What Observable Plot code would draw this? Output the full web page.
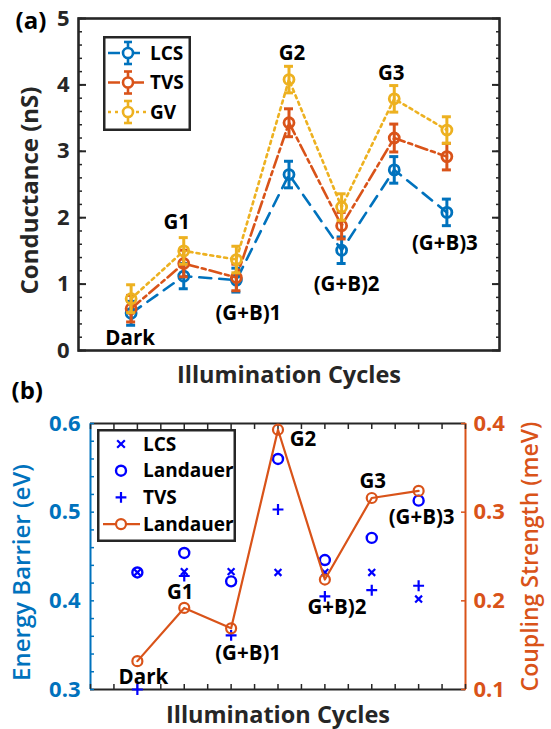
<!DOCTYPE html>
<html><head><meta charset="utf-8">
<script src="https://cdn.jsdelivr.net/npm/d3@7"></script>
<script src="https://cdn.jsdelivr.net/npm/@observablehq/plot@0.6"></script>
<style>
body{margin:0;background:#fff;}
#wrap{position:relative;width:551px;height:729px;overflow:hidden;font-family:"Open Sans",sans-serif;}
#wrap svg.leg{position:absolute;overflow:visible;}
</style></head><body><div id="wrap"></div>
<script>
// ---------- data ----------
const categories = ["Dark","G1","(G+B)1","G2","(G+B)2","G3","(G+B)3"];
const categoriesB = ["Dark","G1","(G+B)1","G2","G+B)2","G3","(G+B)3"];
// Panel (a): conductance (nS)
const lcsG   = [0.56, 1.12, 1.06, 2.65, 1.51, 2.72, 2.08];
const lcsErr = [0.18, 0.19, 0.18, 0.20, 0.20, 0.20, 0.20];
const tvsG   = [0.63, 1.31, 1.10, 3.43, 1.88, 3.20, 2.92];
const tvsErr = [0.20, 0.20, 0.20, 0.21, 0.20, 0.21, 0.20];
const gvG    = [0.78, 1.50, 1.37, 4.08, 2.16, 3.79, 3.32];
const gvErr  = [0.21, 0.20, 0.20, 0.20, 0.20, 0.20, 0.20];
// Panel (b): energy barrier (eV) and coupling strength (meV)
const barrierLCS      = [0.432, 0.433, 0.433, 0.432, 0.432, 0.432, 0.402];
const barrierLandauer = [0.432, 0.454, 0.422, 0.560, 0.446, 0.471, 0.513];
const barrierTVS      = [0.300, 0.428, 0.361, 0.503, 0.405, 0.412, 0.417];
const couplingLandauer= [0.132, 0.192, 0.169, 0.393, 0.224, 0.316, 0.324];
// tick labels
const ticksA = [0, 1, 2, 3, 4, 5];
const ticksBLeft = [0.3, 0.4, 0.5, 0.6];
const ticksBRight = [0.1, 0.2, 0.3, 0.4];

// ---------- styles ----------
const BLUE = "#0072BD", ORANGE = "#D95319", YELLOW = "#EDB120", DARK = "#262626", PURE = "#0000FF";
const FONT = "Open Sans";
const seriesA = [
  {name:"LCS", values:lcsG, err:lcsErr, color:BLUE, dash:"12,8"},
  {name:"TVS", values:tvsG, err:tvsErr, color:ORANGE, dash:"12,4,4,4"},
  {name:"GV",  values:gvG,  err:gvErr,  color:YELLOW, dash:"3,4"}
];
const rowsOf = s => s.values.map((v,i)=>({x:i+1, y:v, lo:v-s.err[i], hi:v+s.err[i], cat:categories[i]}));
const wrap = document.getElementById("wrap");

// ---------- panel (a) ----------
const labelA = [
  {s:0, dx:-1, dy:25}, {s:2, dx:-7, dy:-28}, {s:0, dx:12, dy:33}, {s:2, dx:3, dy:-26},
  {s:0, dx:5, dy:34}, {s:2, dx:-3, dy:-25}, {s:0, dx:-2, dy:31}
];
const marksA = [];
for (const s of seriesA) {
  const rows = rowsOf(s);
  marksA.push(
    Plot.line(rows, {x:"x", y:"y", stroke:s.color, strokeWidth:2.6, strokeDasharray:s.dash}),
    Plot.ruleX(rows, {x:"x", y1:"lo", y2:"hi", stroke:s.color, strokeWidth:3}),
    Plot.ruleY(rows, {x1:"x", x2:"x", y:"lo", insetLeft:-4.5, insetRight:-4.5, stroke:s.color, strokeWidth:3}),
    Plot.ruleY(rows, {x1:"x", x2:"x", y:"hi", insetLeft:-4.5, insetRight:-4.5, stroke:s.color, strokeWidth:3}),
    Plot.dot(rows, {x:"x", y:"y", r:5, stroke:s.color, strokeWidth:2.8, fill:"none"})
  );
}
labelA.forEach((l,i)=>{
  const row = rowsOf(seriesA[l.s])[i];
  marksA.push(Plot.text([row], {x:"x", y:"y", text:"cat", dx:l.dx, dy:l.dy, fontSize:20.5, fontWeight:"bold", fill:"black"}));
});
const minorA = d3.range(0, 5.0001, 0.2);
marksA.push(
  Plot.axisY({anchor:"left", ticks:minorA, tickSize:-4, fill:"none", stroke:DARK, strokeWidth:1.5, label:null}),
  Plot.axisY({anchor:"right", ticks:minorA, tickSize:-4, fill:"none", stroke:DARK, strokeWidth:1.5, label:null}),
  Plot.axisY({anchor:"left", ticks:ticksA, tickSize:-8, fill:"none", stroke:DARK, strokeWidth:2, label:null}),
  Plot.axisY({anchor:"right", ticks:ticksA, tickSize:-8, fill:"none", stroke:DARK, strokeWidth:2, label:null}),
  Plot.axisY({anchor:"left", ticks:ticksA, tickSize:0, tickPadding:9, tickFormat:d3.format("d"), fill:DARK, fontSize:22, fontWeight:"bold", label:null}),
  Plot.frame({stroke:DARK, strokeWidth:2.6}),
  Plot.text(["Conductance (nS)"], {frameAnchor:"left", textAnchor:"middle", lineAnchor:"middle", rotate:-90, dx:-48, dy:6, fontSize:24, fontWeight:"bold", fill:DARK}),
  Plot.text(["Illumination Cycles"], {frameAnchor:"bottom", textAnchor:"middle", lineAnchor:"middle", dy:25, fontSize:23.5, fontWeight:"bold", fill:DARK}),
  Plot.text(["(a)"], {frameAnchor:"top-left", textAnchor:"start", lineAnchor:"top", dx:-63, dy:-7, fontSize:24, fontWeight:"bold", fill:"black"})
);
const plotA = Plot.plot({
  width:551, height:384, marginLeft:78, marginRight:52, marginTop:18, marginBottom:34,
  x:{domain:[0,8], axis:null}, y:{domain:[0,5], axis:null},
  style:{fontFamily:FONT, overflow:"visible", background:"transparent"},
  marks:marksA
});
plotA.style.position = "absolute"; plotA.style.left = "0px"; plotA.style.top = "0px";
wrap.appendChild(plotA);

// ---------- panel (b) ----------
const OFF = 0.2; // coupling axis (0.1..0.4) aligned with barrier axis (0.3..0.6)
const bRows = (arr) => arr.map((v,i)=>({x:i+1, y:v}));
const cRows = couplingLandauer.map((v,i)=>({x:i+1, y:v+OFF, cat:categoriesB[i]}));
const labelB = [
  {dx:6, dy:16}, {dx:-4, dy:-15}, {dx:17, dy:25}, {dx:25, dy:10},
  {dx:12, dy:28}, {dx:1, dy:-17}, {dx:3, dy:27}
];
const marksB = [
  Plot.ruleY([0.3, 0.6], {stroke:DARK, strokeWidth:2}),
  Plot.ruleX([0], {stroke:BLUE, strokeWidth:2}),
  Plot.ruleX([8], {stroke:ORANGE, strokeWidth:2}),
  Plot.axisX({anchor:"bottom", ticks:d3.range(0,8.001,0.5), tickSize:-5, fill:"none", stroke:DARK, strokeWidth:1.5, label:null}),
  Plot.axisX({anchor:"top", ticks:d3.range(0,8.001,0.5), tickSize:-5, fill:"none", stroke:DARK, strokeWidth:1.5, label:null}),
  Plot.axisY({anchor:"left", ticks:d3.range(0.3,0.6001,0.02), tickSize:-4, fill:"none", stroke:BLUE, strokeWidth:1.5, label:null}),
  Plot.axisY({anchor:"right", ticks:ticksBRight.map(c=>c+OFF), tickSize:-5, fill:"none", stroke:ORANGE, strokeWidth:1.5, label:null}),
  Plot.axisY({anchor:"left", ticks:ticksBLeft, tickSize:0, tickPadding:10, tickFormat:d3.format(".1f"), fill:BLUE, fontSize:22, fontWeight:"bold", label:null}),
  Plot.axisY({anchor:"right", ticks:ticksBRight.map(c=>c+OFF), tickSize:0, tickPadding:8, tickFormat:d=>(d-OFF).toFixed(1), fill:ORANGE, fontSize:22, fontWeight:"bold", label:null}),
  Plot.dot(bRows(barrierLCS), {x:"x", y:"y", symbol:"times", r:3.2, stroke:PURE, strokeWidth:2.2}),
  Plot.dot(bRows(barrierLandauer), {x:"x", y:"y", r:5, stroke:PURE, strokeWidth:2.4, fill:"none"}),
  Plot.dot(bRows(barrierTVS), {x:"x", y:"y", symbol:"plus", r:3.6, stroke:PURE, strokeWidth:2.2}),
  Plot.line(cRows, {x:"x", y:"y", stroke:ORANGE, strokeWidth:2.2}),
  Plot.dot(cRows, {x:"x", y:"y", r:5, stroke:ORANGE, strokeWidth:2.2, fill:"none"}),
  Plot.text(["Energy Barrier (eV)"], {frameAnchor:"left", textAnchor:"middle", lineAnchor:"middle", rotate:-90, dx:-68, dy:16, fontSize:24, fontWeight:600, fill:BLUE}),
  Plot.text(["Coupling Strength (meV)"], {frameAnchor:"right", textAnchor:"middle", lineAnchor:"middle", rotate:-90, dx:65, dy:0, fontSize:23, fontWeight:600, fill:ORANGE}),
  Plot.text(["Illumination Cycles"], {frameAnchor:"bottom", textAnchor:"middle", lineAnchor:"middle", dy:26, fontSize:23.5, fontWeight:"bold", fill:DARK}),
  Plot.text(["(b)"], {frameAnchor:"top-left", textAnchor:"start", lineAnchor:"top", dx:-79, dy:-42, fontSize:24, fontWeight:"bold", fill:"black"})
];
labelB.forEach((l,i)=>{
  marksB.push(Plot.text([cRows[i]], {x:"x", y:"y", text:"cat", dx:l.dx, dy:l.dy, fontSize:20.5, fontWeight:"bold", fill:"black"}));
});
const plotB = Plot.plot({
  width:551, height:345, marginLeft:90, marginRight:86, marginTop:39, marginBottom:40,
  x:{domain:[0,8], axis:null}, y:{domain:[0.3,0.6], axis:null},
  style:{fontFamily:FONT, overflow:"visible", background:"transparent"},
  marks:marksB
});
plotB.style.position = "absolute"; plotB.style.left = "0px"; plotB.style.top = "384px";
wrap.appendChild(plotB);

// ---------- legends ----------
function legendSvg(left, top, w, h) {
  const svg = d3.select(wrap).append("svg").attr("class","leg")
    .style("left", left+"px").style("top", top+"px").attr("width", w).attr("height", h);
  svg.append("rect").attr("x",1.25).attr("y",1.25).attr("width",w-2.5).attr("height",h-2.5)
    .attr("fill","white").attr("stroke",DARK).attr("stroke-width",2.5);
  return svg;
}
const legA = legendSvg(103, 36, 88, 95);
seriesA.forEach((s,i)=>{
  const y = 17 + i*29.5;
  const g = legA.append("g").attr("stroke", s.color).attr("stroke-width", 2.6).attr("fill","none");
  g.append("line").attr("x1",5).attr("x2",44).attr("y1",y).attr("y2",y).attr("stroke-dasharray", s.dash);
  g.append("line").attr("x1",25).attr("x2",25).attr("y1",y-11).attr("y2",y+11);
  g.append("line").attr("x1",21).attr("x2",29).attr("y1",y-11).attr("y2",y-11);
  g.append("line").attr("x1",21).attr("x2",29).attr("y1",y+11).attr("y2",y+11);
  g.append("circle").attr("cx",25).attr("cy",y).attr("r",5).attr("fill","white");
  legA.append("text").attr("x",47).attr("y",y).attr("dy","0.35em").attr("font-family",FONT)
    .attr("font-size",19).attr("font-weight","bold").attr("fill","black").text(s.name);
});
const legB = legendSvg(97, 429, 139, 113);
const legBItems = ["LCS","Landauer","TVS","Landauer"];
legBItems.forEach((name,i)=>{
  const y = 15 + i*26.7;
  if (i === 0) legB.append("path").attr("d", d3.symbol(d3.symbolTimes, 40)()).attr("transform",`translate(24,${y})`).attr("stroke",PURE).attr("stroke-width",2.2).attr("fill","none");
  if (i === 1) legB.append("circle").attr("cx",24).attr("cy",y).attr("r",5).attr("stroke",PURE).attr("stroke-width",2.4).attr("fill","none");
  if (i === 2) legB.append("path").attr("d", d3.symbol(d3.symbolPlus, 40)()).attr("transform",`translate(24,${y})`).attr("stroke",PURE).attr("stroke-width",2.2).attr("fill","none");
  if (i === 3) {
    legB.append("line").attr("x1",6).attr("x2",43).attr("y1",y).attr("y2",y).attr("stroke",ORANGE).attr("stroke-width",2.2);
    legB.append("circle").attr("cx",24).attr("cy",y).attr("r",5).attr("stroke",ORANGE).attr("stroke-width",2.2).attr("fill","white");
  }
  legB.append("text").attr("x",46).attr("y",y).attr("dy","0.35em").attr("font-family",FONT)
    .attr("font-size",19).attr("font-weight","bold").attr("fill","black").text(name);
});
</script></body></html>
